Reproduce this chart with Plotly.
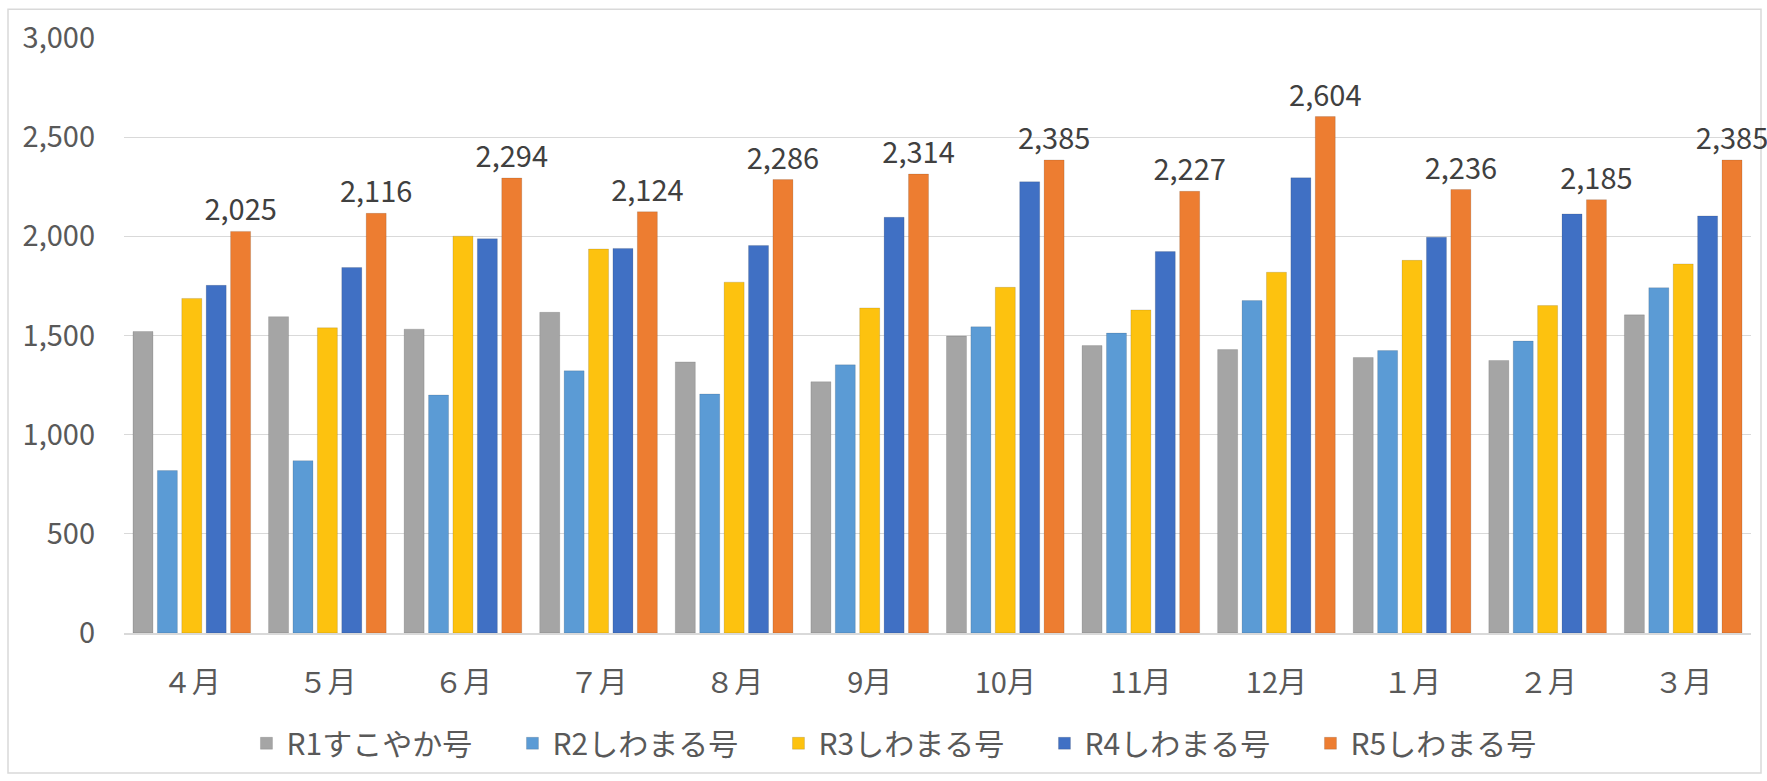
import plotly.graph_objects as go

months = ["４月", "５月", "６月", "７月", "８月", "9月", "10月", "11月", "12月", "１月", "２月", "３月"]
series_names = ["R1すこやか号", "R2しわまる号", "R3しわまる号", "R4しわまる号", "R5しわまる号"]
r1 = [1520, 1595, 1532, 1617, 1367, 1267, 1497, 1449, 1429, 1389, 1374, 1604]
r2 = [819, 869, 1200, 1322, 1205, 1352, 1544, 1512, 1676, 1424, 1472, 1741]
r3 = [1687, 1539, 2001, 1936, 1769, 1639, 1743, 1629, 1819, 1879, 1651, 1861]
r4 = [1753, 1843, 1988, 1939, 1954, 2096, 2275, 1923, 2295, 1996, 2113, 2103]
r5 = [2025, 2116, 2294, 2124, 2286, 2314, 2385, 2227, 2604, 2236, 2185, 2385]
y_ticks = [0, 500, 1000, 1500, 2000, 2500, 3000]

colors = ["#A5A5A5", "#5B9BD5", "#FDC20F", "#4070C4", "#ED7D31"]
values = [r1, r2, r3, r4, r5]

FONT = "Noto Sans CJK JP"
W, H = 1767, 781
L, R, T, B = 124, 16, 38, 144

fig = go.Figure()
for i, (name, vals, col) in enumerate(zip(series_names, values, colors)):
    kw = {}
    if i == 4:
        kw = dict(text=[f"{v:,}" for v in vals], textposition="outside",
                  textfont=dict(size=29, color="#404040", family=FONT),
                  constraintext="none", cliponaxis=False)
    fig.add_trace(go.Bar(
        x=months, y=vals, name=name,
        marker=dict(color=col, line=dict(color="rgba(0,0,0,0.12)", width=1)),
        hoverinfo="skip", **kw))

plot_w = W - L - R
plot_h = H - T - B

def px_x(x):
    return (x - L) / plot_w

def px_y(y):
    return (H - B - y) / plot_h

fig.add_shape(type="rect", xref="paper", yref="paper",
              x0=px_x(8), x1=px_x(1761), y0=px_y(778), y1=px_y(9),
              line=dict(color="#D9D9D9", width=1.5), layer="below")

fig.update_layout(
    width=W, height=H,
    margin=dict(l=L, r=R, t=T, b=B, pad=0),
    paper_bgcolor="white", plot_bgcolor="white",
    barmode="group", bargap=0.1, bargroupgap=0.18,
    font=dict(family=FONT, color="#595959", size=29),
    showlegend=True,
    legend=dict(orientation="h", x=0.484, xanchor="center", y=px_y(748), yanchor="middle",
                font=dict(size=30, color="#595959", family=FONT),
                entrywidth=221, entrywidthmode="pixels", itemwidth=30,
                traceorder="normal"),
    xaxis=dict(showgrid=False, showline=True, linecolor="#D9D9D9", linewidth=2,
               ticks="", tickfont=dict(size=29, color="#595959"),
               ticklabelstandoff=23, fixedrange=True),
    yaxis=dict(range=[0, 3000], tickvals=y_ticks, ticktext=[f"{v:,}" for v in y_ticks],
               showgrid=True, gridcolor="#D9D9D9", gridwidth=1,
               zeroline=False, showline=False, ticks="",
               tickfont=dict(size=29, color="#595959"),
               ticklabelstandoff=28, fixedrange=True),
)

fig.write_html("out.html", config={"displayModeBar": False},
               post_script="document.body.style.margin='0px';")
